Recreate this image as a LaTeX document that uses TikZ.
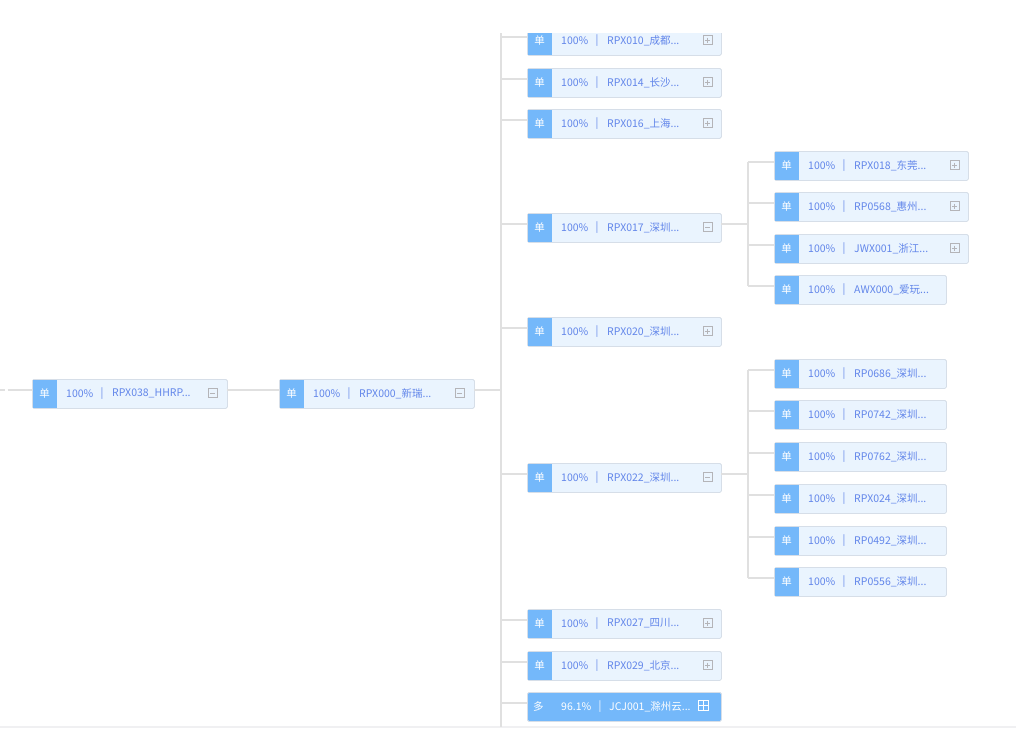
\documentclass[tikz,border=0pt]{standalone}
\usepackage{fontspec}
\setmainfont{Noto Sans CJK SC}
\usetikzlibrary{calc}
\definecolor{tagblue}{RGB}{116,184,250}
\definecolor{boxfill}{RGB}{234,244,254}
\definecolor{boxborder}{RGB}{214,222,232}
\definecolor{txtblue}{RGB}{98,134,234}
\definecolor{linegray}{RGB}{224,224,224}
\definecolor{icongray}{RGB}{180,180,184}
\definecolor{bargray}{RGB}{240,240,242}
\tikzset{
  x=1pt, y=-1pt,
  box/.style={draw=boxborder, fill=boxfill, rounded corners=1.5pt, minimum height=29pt, anchor=north west, inner sep=0pt, line width=0.8pt},
  fullbox/.style={draw=boxborder, fill=tagblue, rounded corners=1.5pt, minimum height=29pt, anchor=north west, inner sep=0pt, line width=0.8pt},
  tagbox/.style={fill=tagblue, minimum width=24pt, minimum height=28.4pt, anchor=north west, inner sep=0pt, text=white, font=\fontsize{10.5}{12}\selectfont},
  lbl/.style={anchor=west, inner sep=0pt, text=txtblue, font=\fontsize{10.5}{12}\selectfont},
  wlbl/.style={anchor=west, inner sep=0pt, text=white, font=\fontsize{10.5}{12}\selectfont},
  conn/.style={draw=linegray, line width=1.1pt},
  iconframe/.style={draw=icongray, line width=0.7pt},
  pics/iconminus/.style={code={\draw[iconframe] (-4.5,-4.5) rectangle (4.5,4.5); \draw[iconframe] (-2.5,0)--(2.5,0);}},
  pics/iconplus/.style={code={\draw[iconframe] (-4.5,-4.5) rectangle (4.5,4.5); \draw[iconframe] (-2.5,0)--(2.5,0) (0,-2.5)--(0,2.5);}},
  pics/iconwhite/.style={code={\draw[white, line width=1pt] (-5,-5) rectangle (5,5); \draw[white, line width=1pt] (-5,0)--(5,0) (0,-5)--(0,5);}},
}
% #1 name, #2 x, #3 top, #4 width, #5 percent, #6 code text, #7 icon pic (or empty)
\newcommand\orgnode[7]{%
  \node[box, minimum width=#4pt] (#1) at (#2,#3) {};
  \node[tagbox] (#1t) at ($(#2,#3)+(0.4,0.3)$) {单};
  \node[lbl] (#1p) at ($(#2,#3)+(34,14.5)$) {#5};
  \node[lbl] (#1s) at ($(#2,#3)+(68.5,14.5)$) {|};
  \node[lbl] (#1n) at ($(#2,#3)+(80,14.5)$) {#6};
  \ifx\relax#7\relax\else\pic at ($(#2,#3)+(180.5,14)$) {#7};\fi
  \coordinate (#1in) at ($(#2,#3)+(0,11)$);
  \coordinate (#1out) at ($(#2,#3)+(#4,11)$);
}
\begin{document}
\begin{tikzpicture}
\useasboundingbox (0,0) rectangle (1016,728);
\fill[white] (0,0) rectangle (1016,728);
\fill[bargray] (0,726) rectangle (1016,728);
\begin{scope}
\clip (0,33) rectangle (1016,726);
\coordinate (trunktop) at (501,33);
\coordinate (trunkbot) at (501,728);
\coordinate (leftA) at (0,390);
\coordinate (leftB) at (5,390);
\coordinate (leftC) at (7.5,390);
\coordinate (g1x) at (748,0);
% connectors first (behind boxes)
\draw[conn] (leftA) -- (leftB);
\draw[conn] (trunktop) -- (trunkbot);
% nodes
\orgnode{n1}{32}{379}{195}{100\%}{RPX038\_HHRP...}{iconminus}
\orgnode{n2}{279}{379}{195}{100\%}{RPX000\_新瑞...}{iconminus}
\orgnode{a1}{527}{26}{194}{100\%}{RPX010\_成都...}{iconplus}
\orgnode{a2}{527}{68}{194}{100\%}{RPX014\_长沙...}{iconplus}
\orgnode{a3}{527}{109}{194}{100\%}{RPX016\_上海...}{iconplus}
\orgnode{a4}{527}{213}{194}{100\%}{RPX017\_深圳...}{iconminus}
\orgnode{a5}{527}{317}{194}{100\%}{RPX020\_深圳...}{iconplus}
\orgnode{a6}{527}{463}{194}{100\%}{RPX022\_深圳...}{iconminus}
\orgnode{a7}{527}{609}{194}{100\%}{RPX027\_四川...}{iconplus}
\orgnode{a8}{527}{651}{194}{100\%}{RPX029\_北京...}{iconplus}
% last (filled) node
\node[fullbox, minimum width=194pt] (a9) at (527,692) {};
\node[wlbl] (a9t) at (533,706.5) {多};
\node[wlbl] (a9p) at (561,706.5) {96.1\%};
\node[wlbl] (a9s) at (598.5,706.5) {|};
\node[wlbl] (a9n) at (609,706.5) {JCJ001\_滁州云...};
\pic at (703,705) {iconwhite};
\coordinate (a9in) at (527,703);
% level 3, group 1
\orgnode{b1}{774}{151}{194}{100\%}{RPX018\_东莞...}{iconplus}
\orgnode{b2}{774}{192}{194}{100\%}{RP0568\_惠州...}{iconplus}
\orgnode{b3}{774}{234}{194}{100\%}{JWX001\_浙江...}{iconplus}
\orgnode{b4}{774}{275}{172}{100\%}{AWX000\_爱玩...}{}
% level 3, group 2
\orgnode{c1}{774}{359}{172}{100\%}{RP0686\_深圳...}{}
\orgnode{c2}{774}{400}{172}{100\%}{RP0742\_深圳...}{}
\orgnode{c3}{774}{442}{172}{100\%}{RP0762\_深圳...}{}
\orgnode{c4}{774}{484}{172}{100\%}{RPX024\_深圳...}{}
\orgnode{c5}{774}{526}{172}{100\%}{RP0492\_深圳...}{}
\orgnode{c6}{774}{567}{172}{100\%}{RP0556\_深圳...}{}
% connectors
\draw[conn] (leftC) -- (n1in);
\draw[conn] (n1out) -- (n2in);
\draw[conn] (n2out) -- (n2out -| trunktop);
\foreach \c in {a1,a2,a3,a4,a5,a6,a7,a8,a9}{
  \draw[conn] (\c in -| trunktop) -- (\c in);
}
\draw[conn] (a4out) -- (a4out -| g1x);
\draw[conn] (b1in -| g1x) -- (b4in -| g1x);
\foreach \c in {b1,b2,b3,b4}{
  \draw[conn] (\c in -| g1x) -- (\c in);
}
\draw[conn] (a6out) -- (a6out -| g1x);
\draw[conn] (c1in -| g1x) -- (c6in -| g1x);
\foreach \c in {c1,c2,c3,c4,c5,c6}{
  \draw[conn] (\c in -| g1x) -- (\c in);
}
\end{scope}
\end{tikzpicture}
\end{document}
